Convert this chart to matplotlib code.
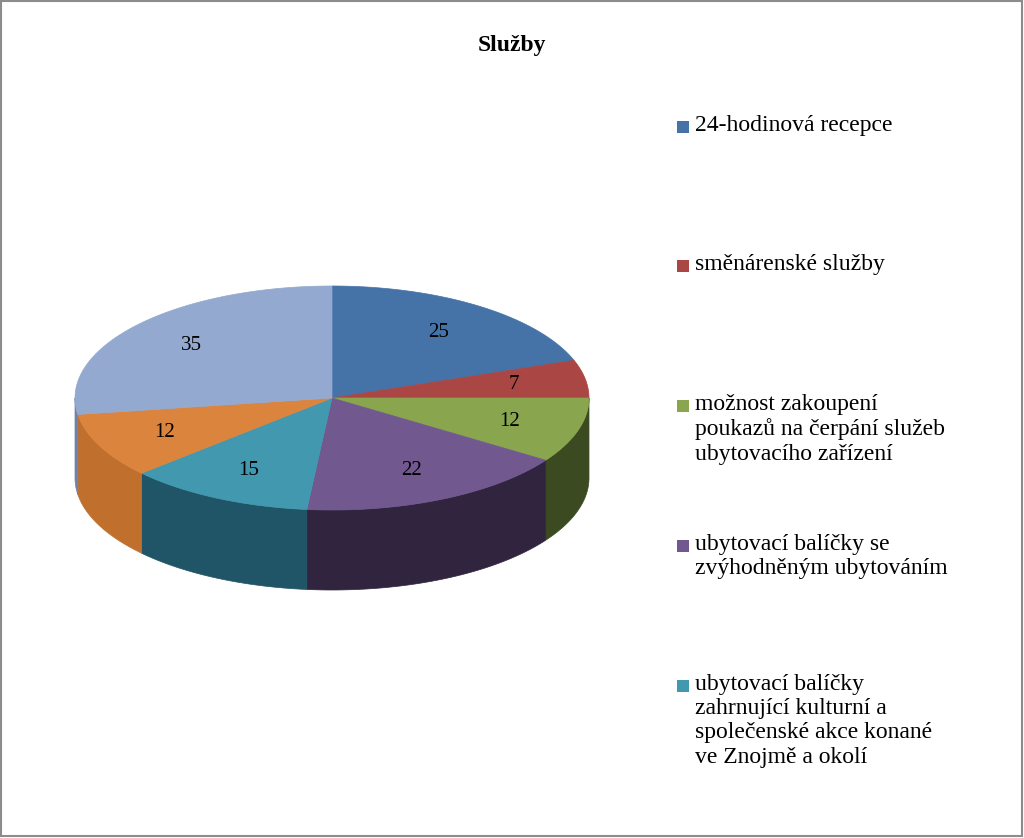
import numpy as np
import matplotlib
matplotlib.use("Agg")
import matplotlib.pyplot as plt
from matplotlib.patches import Polygon, Rectangle

categories = ["24-hodinová recepce", "směnárenské služby",
              "možnost zakoupení\npoukazů na čerpání služeb\nubytovacího zařízení",
              "ubytovací balíčky se\nzvýhodněným ubytováním",
              "ubytovací balíčky\nzahrnující kulturní a\nspolečenské akce konané\nve Znojmě a okolí",
              "jiné", "ostatní"]
values = [25, 7, 12, 22, 15, 12, 35]
colors = ["#4572A7", "#AA4643", "#89A54E", "#71588F", "#4198AF", "#DB843D", "#93A9CF"]
side_colors = ["#2c4a6e", "#6e2d2b", "#3b4a20", "#30243f", "#1f5566", "#c0702c", "#6f83a8"]
legend_n = 5

fig = plt.figure(figsize=(10.24, 8.38), dpi=100)
ax = fig.add_axes([0, 0, 1, 1])
ax.set_xlim(0, 1024); ax.set_ylim(838, 0); ax.axis("off")
ax.add_patch(Rectangle((1, 1), 1021, 835, fill=False, ec="#8c8c8c", lw=1.5))

cx, cy, rx, ry, depth = 332, 398, 257, 112, 80
tot = sum(values)
bounds = np.concatenate([[0], np.cumsum(values)]) / tot * 360

def pt(th, dy=0, r=1.0):
    t = np.radians(th)
    return cx + rx * r * np.sin(t), cy - ry * r * np.cos(t) + dy

# side walls (front half: 90..270)
for i in range(len(values)):
    a, b = max(bounds[i], 90), min(bounds[i + 1], 270)
    if b <= a:
        continue
    th = np.linspace(a, b, 60)
    top = [pt(t) for t in th]
    bot = [pt(t, depth) for t in th[::-1]]
    ax.add_patch(Polygon(top + bot, closed=True, fc=side_colors[i], ec=side_colors[i], lw=0.5))

# top faces
for i in range(len(values)):
    th = np.linspace(bounds[i], bounds[i + 1], 100)
    poly = [(cx, cy)] + [pt(t) for t in th]
    ax.add_patch(Polygon(poly, closed=True, fc=colors[i], ec=colors[i], lw=0.5))
    mid = (bounds[i] + bounds[i + 1]) / 2
    lx, ly = pt(mid, r=0.72)
    ax.text(lx, ly, str(values[i]), ha="center", va="center", fontsize=15,
            family="Liberation Serif")

ax.text(512, 45, "Služby", ha="center", va="center", fontsize=17, fontweight="bold",
        family="Liberation Serif")

leg_y = [127, 266, 406, 546, 686]
for i in range(legend_n):
    ax.add_patch(Rectangle((677, leg_y[i] - 6), 12, 12, fc=colors[i], ec="none"))
    ax.text(695, leg_y[i] - 12, categories[i], ha="left", va="top", fontsize=17,
            family="Liberation Serif", linespacing=1.2)

fig.savefig("out.png", dpi=100)
